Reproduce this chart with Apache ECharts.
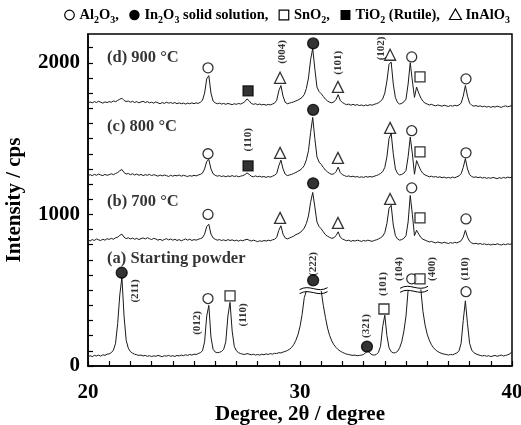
<!DOCTYPE html>
<html>
<head>
<meta charset="utf-8">
<script src="https://cdn.jsdelivr.net/npm/echarts@6/dist/echarts.min.js"></script>
<style>html,body{margin:0;padding:0;background:#fff}#c{width:521px;height:425px}</style>
</head>
<body>
<div id="c"></div>
<script>
// 2theta grid, 0.1 degree steps from 20 to 40
const twoTheta = [];
for (let i = 0; i <= 200; i++) twoTheta.push(+(20 + i * 0.1).toFixed(1));

// (a) Starting powder (null = broken off-scale peak)
const patternA = [
  60,68,62,70,66,72,65,74,70,78,            // 20.x
  80,88,105,150,280,470,585,330,170,118,     // 21.x
  95,85,78,74,70,72,66,70,64,68,             // 22.x
  62,67,64,70,66,61,68,65,70,64,             // 23.x
  68,63,70,66,72,68,74,70,76,72,             // 24.x
  78,76,82,88,100,160,330,400,190,110,       // 25.x
  92,88,90,96,110,160,330,420,230,130,       // 26.x
  100,88,82,78,76,82,78,74,78,72,            // 27.x
  76,72,78,74,80,76,82,78,84,82,             // 28.x
  88,86,92,96,102,110,122,140,168,205,       // 29.x
  260,340,450,495,null,null,null,null,null,null, // 30.x
  495,400,320,250,200,165,140,122,108,98,    // 31.x
  90,84,78,76,72,70,72,68,70,72,             // 32.x
  76,88,100,84,74,72,76,90,130,260,          // 33.x
  335,200,120,95,86,88,96,120,160,230,       // 34.x
  330,500,null,null,null,null,null,505,360,270, // 35.x
  210,170,140,120,105,95,88,82,78,76,        // 36.x
  72,76,74,80,86,100,150,300,430,280,        // 37.x
  150,105,88,80,74,70,66,70,64,68,           // 38.x
  62,66,70,64,68,72,66,70,74,80,             // 39.x
  95
];
// (b) 700 °C
const patternB = [
  830,825,834,828,838,832,828,836,830,840,
  835,842,836,845,850,862,870,850,840,846,
  838,844,836,842,834,840,845,838,846,840,
  834,842,838,830,836,828,834,840,832,838,
  830,836,828,834,826,832,838,830,836,828,
  834,830,836,840,846,870,920,935,870,845,
  836,830,834,828,832,826,834,828,832,826,
  830,824,830,826,832,836,830,824,830,826,
  820,826,822,828,824,830,826,832,836,848,
  895,925,870,845,838,844,850,856,866,872,
  880,892,910,940,990,1080,1145,1050,950,920,
  905,885,866,856,848,842,846,860,885,850,
  838,832,826,830,822,828,824,830,826,822,
  828,824,830,826,822,828,832,838,846,856,
  880,940,1040,1060,930,860,838,830,834,842,
  860,950,1125,1000,860,895,870,848,836,830,
  824,818,822,816,812,818,814,810,816,812,
  808,814,810,816,812,818,826,850,895,850,
  822,812,806,810,804,808,802,806,800,804,
  798,804,800,806,802,798,804,800,806,802,
  808
];
// (c) 800 °C
const patternC = [
  1255,1262,1256,1264,1258,1266,1260,1256,1264,1258,
  1262,1268,1262,1270,1276,1288,1296,1276,1266,1270,
  1262,1268,1260,1266,1258,1264,1256,1262,1258,1264,
  1256,1262,1258,1252,1260,1254,1260,1256,1250,1258,
  1252,1258,1254,1260,1252,1258,1254,1250,1256,1252,
  1258,1254,1260,1264,1272,1300,1350,1362,1300,1268,
  1258,1252,1256,1250,1254,1248,1254,1250,1256,1250,
  1254,1248,1252,1256,1262,1274,1264,1252,1248,1254,
  1248,1252,1246,1250,1244,1250,1246,1252,1258,1270,
  1320,1358,1300,1266,1256,1260,1264,1270,1276,1284,
  1292,1304,1322,1360,1420,1540,1640,1500,1380,1345,
  1330,1310,1292,1280,1270,1264,1268,1282,1312,1276,
  1262,1256,1250,1254,1248,1252,1246,1250,1244,1248,
  1244,1250,1246,1250,1246,1252,1256,1262,1270,1282,
  1310,1380,1500,1535,1400,1300,1270,1260,1264,1272,
  1290,1380,1510,1400,1265,1355,1320,1290,1270,1260,
  1254,1248,1252,1246,1250,1244,1248,1242,1246,1240,
  1244,1240,1246,1242,1248,1254,1268,1310,1368,1300,
  1262,1250,1244,1248,1242,1246,1240,1244,1238,1242,
  1238,1244,1240,1236,1242,1238,1244,1240,1246,1242,
  1246
];
// (d) 900 °C
const patternD = [
  1735,1742,1736,1744,1738,1746,1740,1734,1742,1738,
  1744,1740,1748,1744,1752,1760,1766,1752,1744,1748,
  1740,1746,1738,1744,1736,1742,1746,1738,1744,1736,
  1740,1734,1742,1736,1730,1738,1732,1740,1734,1738,
  1732,1738,1730,1736,1730,1734,1728,1734,1730,1736,
  1730,1736,1732,1740,1752,1800,1895,1915,1800,1748,
  1736,1730,1734,1728,1732,1726,1732,1728,1724,1730,
  1726,1732,1728,1734,1744,1762,1750,1732,1726,1730,
  1724,1728,1722,1726,1720,1726,1722,1728,1734,1752,
  1815,1850,1780,1740,1730,1734,1738,1742,1748,1754,
  1762,1772,1790,1830,1900,2020,2095,1960,1840,1810,
  1796,1778,1760,1748,1740,1736,1742,1758,1790,1752,
  1738,1730,1724,1728,1720,1726,1720,1724,1718,1722,
  1716,1722,1718,1724,1720,1726,1730,1736,1746,1762,
  1800,1880,1990,2005,1860,1770,1738,1728,1732,1742,
  1760,1860,2000,1880,1772,1840,1800,1768,1746,1734,
  1728,1722,1726,1720,1716,1722,1718,1714,1720,1716,
  1712,1718,1714,1720,1716,1722,1734,1780,1850,1780,
  1734,1720,1714,1718,1712,1716,1710,1714,1708,1712,
  1706,1712,1708,1714,1710,1706,1712,1716,1710,1714,
  1718
];

// phase markers [2theta, cps]
const al2o3Marks = [[25.66,445],[35.27,575],[37.83,490],[25.66,1000],[35.27,1175],[37.83,970],
                    [25.66,1400],[35.27,1552],[37.83,1406],[25.66,1967],[35.27,2039],[37.83,1894]];
const in2o3Marks = [[21.59,615],[30.62,565],[33.16,128],[30.62,1205],[30.62,1690],[30.62,2128]];
const sno2Marks  = [[26.70,462],[33.96,376],[35.66,575],[35.66,977],[35.66,1412],[35.66,1907]];
const tio2Marks  = [[27.55,1320],[27.55,1815]];
const inalo3Marks = [[29.06,977],[31.79,944],[34.25,1102],[29.06,1406],[31.79,1373],[34.25,1571],
                     [29.06,1901],[31.79,1841],[34.25,2053]];

// hkl labels [2theta, cps, text]
const hklLabels = [[22.22,495,'(211)'],[25.14,284,'(012)'],[27.31,337,'(110)'],[30.61,673,'(222)'],
  [33.11,264,'(321)'],[33.92,541,'(101)'],[34.67,640,'(104)'],[36.23,640,'(400)'],[37.78,640,'(110)'],
  [27.55,1492,'(110)'],[29.15,2072,'(004)'],[31.79,2000,'(101)'],[33.82,2095,'(102)']];

// pattern captions [2theta, cps, text]
const captions = [[20.9,2033,'(d) 900 °C'],[20.9,1577,'(c) 800 °C'],[20.9,1082,'(b) 700 °C'],[20.9,706,'(a) Starting powder']];

// axis break marks on truncated peaks [2theta, cps]
const breakMarks = [[30.64,497],[35.38,506]];

// phase key: symbol + formula pieces ([text, isSubscript])
const phaseKey = [
  ['circleOpen',  [['Al',0],['2',1],['O',0],['3',1],[',',0]]],
  ['circleFill',  [['In',0],['2',1],['O',0],['3',1],[' solid solution,',0]]],
  ['rectOpen',    [['SnO',0],['2',1],[',',0]]],
  ['rectFill',    [['TiO',0],['2',1],[' (Rutile),',0]]],
  ['triangleOpen',[['InAlO',0],['3',1]]]
];

const FONT = 'Liberation Serif';
const zip = ys => twoTheta.map((x, i) => [x, ys[i]]);

function lineSeries(ys) {
  return { type: 'line', data: zip(ys), showSymbol: false, connectNulls: false,
    lineStyle: { color: '#1a1a1a', width: 1 }, silent: true, animation: false, z: 2 };
}
function markSeries(data, symbol, filled, size) {
  return { type: 'scatter', data, symbol, symbolSize: size,
    itemStyle: { color: filled ? '#000' : '#fff', borderColor: '#000', borderWidth: 1.3 },
    animation: false, z: 5 };
}

// build the phase key as graphic elements laid out left to right
const mctx = document.createElement('canvas').getContext('2d');
function textW(t, size) { mctx.font = 'bold ' + size + 'px "' + FONT + '"'; return mctx.measureText(t).width; }
const KEY_FS = 14.5, KEY_SUB = 10, KEY_Y = 15;
const keyEls = [];
let kx = 64;
phaseKey.forEach(entry => {
  const kind = entry[0];
  const cx = kx + 5.5;
  if (kind === 'circleOpen') keyEls.push({ type: 'circle', shape: { cx, cy: KEY_Y, r: 4.8 }, style: { fill: '#fff', stroke: '#000', lineWidth: 1.2 } });
  if (kind === 'circleFill') keyEls.push({ type: 'circle', shape: { cx, cy: KEY_Y, r: 5.2 }, style: { fill: '#000' } });
  if (kind === 'rectOpen') keyEls.push({ type: 'rect', shape: { x: cx - 4.8, y: KEY_Y - 4.8, width: 9.6, height: 9.6 }, style: { fill: '#fff', stroke: '#000', lineWidth: 1.2 } });
  if (kind === 'rectFill') keyEls.push({ type: 'rect', shape: { x: cx - 5, y: KEY_Y - 5, width: 10, height: 10 }, style: { fill: '#000' } });
  if (kind === 'triangleOpen') keyEls.push({ type: 'polygon', shape: { points: [[cx, KEY_Y - 6], [cx - 6, KEY_Y + 4.5], [cx + 6, KEY_Y + 4.5]] }, style: { fill: '#fff', stroke: '#000', lineWidth: 1.2 } });
  kx += 11 + 4.5;
  entry[1].forEach(p => {
    const sub = p[1] === 1;
    const fs = sub ? KEY_SUB : KEY_FS;
    keyEls.push({ type: 'text', x: kx, y: sub ? KEY_Y + 5.5 : KEY_Y,
      style: { text: p[0], fontFamily: FONT, fontWeight: 'bold', fontSize: fs, fill: '#000', verticalAlign: 'middle', align: 'left' } });
    kx += textW(p[0], fs);
  });
  kx += 10;
});

const chart = echarts.init(document.getElementById('c'));
chart.setOption({
  backgroundColor: '#fff',
  animation: false,
  grid: { left: 88, right: 9, top: 34, bottom: 59, outerBoundsMode: 'none', containLabel: false,
    show: true, borderColor: '#000', borderWidth: 1.5, backgroundColor: 'transparent' },
  xAxis: {
    type: 'value', min: 20, max: 40, interval: 1,
    name: 'Degree, 2θ / degree', nameLocation: 'middle', nameGap: 38, nameMoveOverlap: false,
    nameTextStyle: { fontFamily: FONT, fontWeight: 'bold', fontSize: 21, color: '#000' },
    axisLine: { lineStyle: { color: '#000', width: 1.5 } },
    axisTick: { inside: true, length: 5, lineStyle: { color: '#000', width: 1.2 } },
    splitLine: { show: false },
    axisLabel: { margin: 16, fontFamily: FONT, fontWeight: 'bold', fontSize: 21, color: '#000',
      formatter: v => (Math.round(v) % 10 === 0 ? String(Math.round(v)) : '') }
  },
  yAxis: {
    type: 'value', min: 0, max: 2190, interval: 100,
    name: 'Intensity / cps', nameLocation: 'middle', nameGap: 63, nameMoveOverlap: false,
    nameTextStyle: { fontFamily: FONT, fontWeight: 'bold', fontSize: 21, color: '#000' },
    axisLine: { show: true, lineStyle: { color: '#000', width: 1.5 } },
    axisTick: { show: true, inside: true, length: 5, lineStyle: { color: '#000', width: 1.2 } },
    splitLine: { show: false },
    axisLabel: { margin: 8, fontFamily: FONT, fontWeight: 'bold', fontSize: 21, color: '#000',
      showMaxLabel: false,
      formatter: v => (Math.round(v) % 1000 === 0 ? String(Math.round(v)) : '') }
  },
  graphic: [{ type: 'group', x: 0, y: 0, children: keyEls }],
  series: [
    lineSeries(patternA), lineSeries(patternB), lineSeries(patternC), lineSeries(patternD),
    {
      type: 'custom', data: breakMarks, animation: false, z: 4,
      renderItem: (params, api) => {
        const p = api.coord([api.value(0), api.value(1)]);
        const cx = p[0], cy = p[1], w = 14;
        const wave = dy => ({ type: 'bezierCurve',
          shape: { x1: cx - w, y1: cy + dy + 1, x2: cx + w, y2: cy + dy - 1,
                   cpx1: cx - 4, cpy1: cy + dy - 5, cpx2: cx + 4, cpy2: cy + dy + 5 },
          style: { stroke: '#000', lineWidth: 1, fill: null } });
        return { type: 'group', children: [wave(-2), wave(2)] };
      }
    },
    markSeries(al2o3Marks, 'circle', false, 10),
    markSeries(in2o3Marks, 'circle', true, 11),
    markSeries(sno2Marks, 'rect', false, 10),
    markSeries(tio2Marks, 'rect', true, 10),
    markSeries(inalo3Marks, 'triangle', false, 11),
    {
      type: 'scatter', symbolSize: 0, animation: false, z: 6,
      data: hklLabels.map(d => ({ value: [d[0], d[1]], name: d[2] })),
      label: { show: true, position: 'inside', rotate: 90, formatter: p => p.name,
        fontFamily: FONT, fontWeight: 'bold', fontSize: 11, color: '#000' }
    },
    {
      type: 'scatter', symbolSize: 0, animation: false, z: 6,
      data: captions.map(d => ({ value: [d[0], d[1]], name: d[2] })),
      label: { show: true, position: 'inside', align: 'left', verticalAlign: 'middle', formatter: p => p.name,
        fontFamily: FONT, fontWeight: 'bold', fontSize: 16.5, color: '#000' }
    }
  ]
});
</script>
</body>
</html>
